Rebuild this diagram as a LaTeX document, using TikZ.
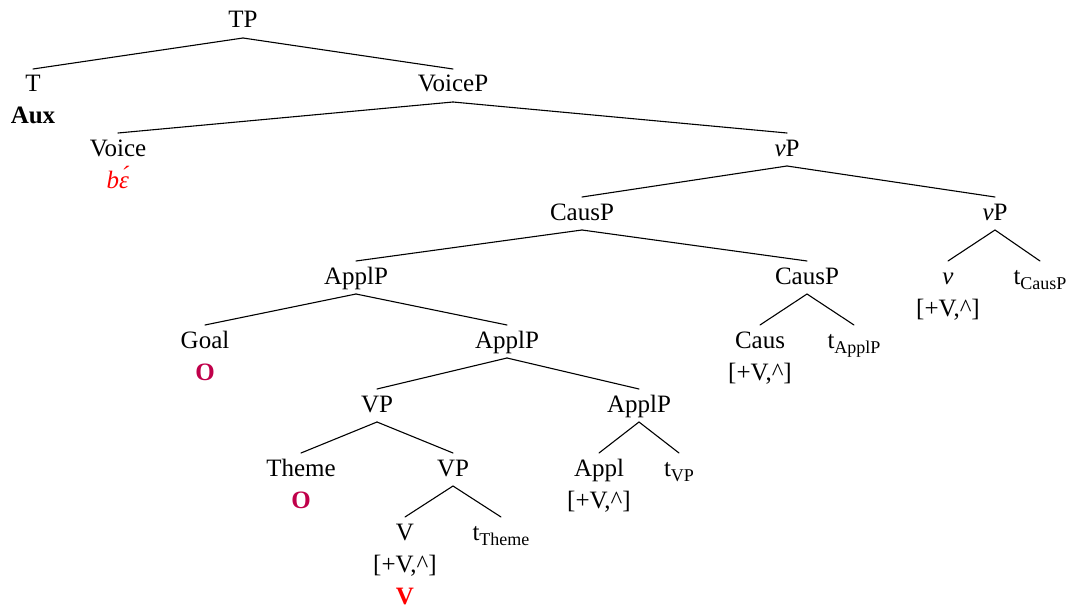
\documentclass[tikz,border=0pt]{standalone}
\usepackage{fontspec}
\setmainfont{Liberation Serif}
\definecolor{oxred}{HTML}{C0004A}
\definecolor{brred}{HTML}{FF0000}
\newcommand\tsub[1]{\raisebox{-5pt}{\fontsize{18}{18}\selectfont #1}}
\tikzset{
  lab/.style={font=\fontsize{25}{30}\selectfont, inner sep=0pt, anchor=base},
  edge/.style={line width=1.1pt, line cap=round}
}
\newcommand\br[2]{\draw[edge] ([yshift=-10pt]#1.base) -- ([yshift=23pt]#2.base);}
\begin{document}
\begin{tikzpicture}[x=1pt,y=-1pt]
\useasboundingbox (0,0) rectangle (1072,610);
\node[lab] (tp) at (243,28) {TP};
\node[lab] (t) at (33,92) {T};
\node[lab] (aux) at (33,124) {\textbf{Aux}};
\node[lab] (voicep) at (453,92) {VoiceP};
\node[lab] (voice) at (118,156) {Voice};
\node[lab, text=brred] (be) at (118,188) {\textit{bɛ́}};
\node[lab] (vp1) at (787,156) {\textit{v}P};
\node[lab] (causp1) at (582,220) {CausP};
\node[lab] (vp2) at (995,220) {\textit{v}P};
\node[lab] (applp1) at (356,284) {ApplP};
\node[lab] (causp2) at (807,284) {CausP};
\node[lab] (v) at (948,284) {\textit{v}};
\node[lab] (vfeat) at (948,316) {[+V,\^{}]};
\node[lab] (tcausp) at (1040,284) {t\tsub{CausP}};
\node[lab] (goal) at (205,348) {Goal};
\node[lab, text=oxred] (o1) at (205,380) {\textbf{O}};
\node[lab] (applp2) at (507,348) {ApplP};
\node[lab] (caus) at (760,348) {Caus};
\node[lab] (causfeat) at (760,380) {[+V,\^{}]};
\node[lab] (tapplp) at (854,348) {t\tsub{ApplP}};
\node[lab] (vp3) at (377,412) {VP};
\node[lab] (applp3) at (639,412) {ApplP};
\node[lab] (theme) at (301,476) {Theme};
\node[lab, text=oxred] (o2) at (301,508) {\textbf{O}};
\node[lab] (vp4) at (453,476) {VP};
\node[lab] (appl) at (599,476) {Appl};
\node[lab] (applfeat) at (599,508) {[+V,\^{}]};
\node[lab] (tvp) at (679,476) {t\tsub{VP}};
\node[lab] (vv) at (405,540) {V};
\node[lab] (vvfeat) at (405,572) {[+V,\^{}]};
\node[lab, text=brred] (vbold) at (405,604) {\textbf{V}};
\node[lab] (ttheme) at (501,540) {t\tsub{Theme}};
\br{tp}{t}
\br{tp}{voicep}
\br{voicep}{voice}
\br{voicep}{vp1}
\br{vp1}{causp1}
\br{vp1}{vp2}
\br{causp1}{applp1}
\br{causp1}{causp2}
\br{vp2}{v}
\br{vp2}{tcausp}
\br{applp1}{goal}
\br{applp1}{applp2}
\br{causp2}{caus}
\br{causp2}{tapplp}
\br{applp2}{vp3}
\br{applp2}{applp3}
\br{vp3}{theme}
\br{vp3}{vp4}
\br{applp3}{appl}
\br{applp3}{tvp}
\br{vp4}{vv}
\br{vp4}{ttheme}
\end{tikzpicture}
\end{document}
